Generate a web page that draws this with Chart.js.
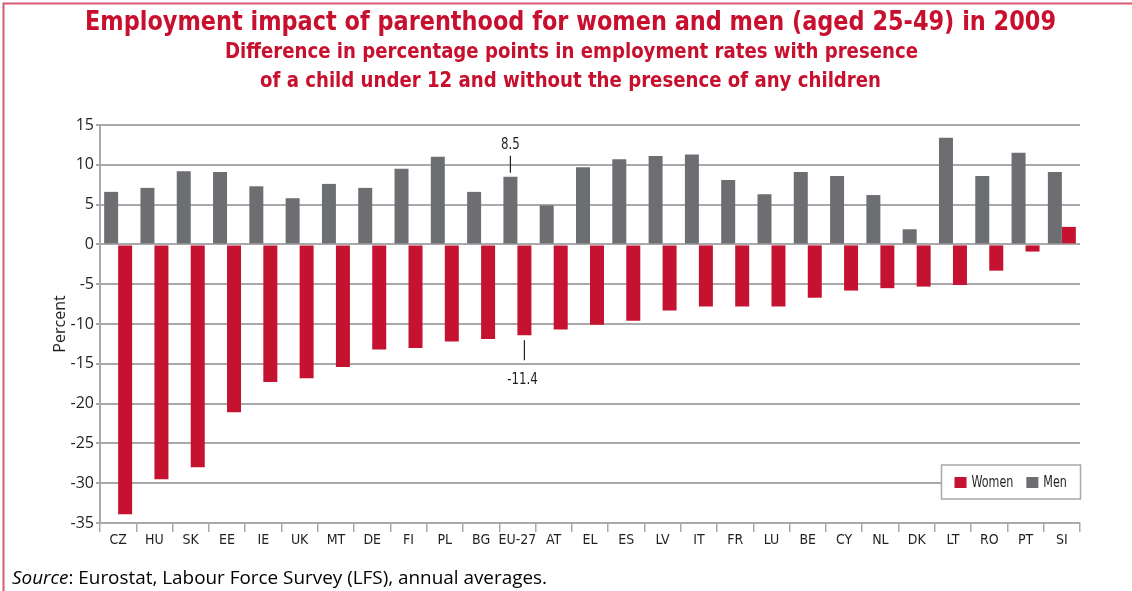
<!DOCTYPE html>
<html><head><meta charset="utf-8">
<script src="https://cdn.jsdelivr.net/npm/chart.js@4/dist/chart.umd.min.js"></script>
<style>html,body{margin:0;padding:0;background:#fff}#wrap{width:1132px;height:591px;position:relative}</style>
</head><body><div id="wrap"><canvas id="c" width="1132" height="591"></canvas></div>
<script>
const categories = ['CZ','HU','SK','EE','IE','UK','MT','DE','FI','PL','BG','EU-27','AT','EL','ES','LV','IT','FR','LU','BE','CY','NL','DK','LT','RO','PT','SI'];
const menValues   = [6.6, 7.1, 9.2, 9.1, 7.3, 5.8, 7.6, 7.1, 9.5, 11.0, 6.6, 8.5, 4.9, 9.7, 10.7, 11.1, 11.3, 8.1, 6.3, 9.1, 8.6, 6.2, 1.9, 13.4, 8.6, 11.5, 9.1];
const womenValues = [-33.9, -29.5, -28.0, -21.1, -17.3, -16.8, -15.4, -13.2, -13.0, -12.2, -11.9, -11.4, -10.7, -10.1, -9.6, -8.3, -7.8, -7.8, -7.8, -6.7, -5.8, -5.5, -5.3, -5.1, -3.3, -0.9, 2.2];
const yTickMin = -35, yTickMax = 15, yTickStep = 5;
const labelledCategory = 'EU-27';
const titleText = 'Employment impact of parenthood for women and men (aged 25-49) in 2009';
const subtitleLines = ['Difference in percentage points in employment rates with presence', 'of a child under 12 and without the presence of any children'];
const sourceItalic = 'Source';
const sourceRest = ': Eurostat, Labour Force Survey (LFS), annual averages.';

const COND = "'Liberation Sans Narrow','DejaVu Sans Condensed','Roboto Condensed',sans-serif";
const REG = "'Open Sans','Noto Sans',sans-serif";
const TXT = '#231f20';
const GRID = '#a9a9ac';
const RED = '#c41230';
const GREY = '#6d6e71';
const TITLE_RED = '#c8102e';

function fitText(ctx, text, cx, y, width) {
  const m = ctx.measureText(text).width;
  const sx = width / m;
  ctx.save();
  ctx.translate(cx, y);
  ctx.scale(sx, 1);
  ctx.fillText(text, 0, 0);
  ctx.restore();
}
function sxText(ctx, text, x, y, sx) {
  ctx.save();
  ctx.translate(x, y);
  ctx.scale(sx, 1);
  ctx.fillText(text, 0, 0);
  ctx.restore();
  return ctx.measureText(text).width * sx;
}

const decor = {
  id: 'decor',
  afterDraw(chart) {
    const ctx = chart.ctx;
    const ca = chart.chartArea;
    ctx.save();
    // frame
    ctx.strokeStyle = '#d65a74';
    ctx.lineWidth = 2;
    ctx.beginPath();
    ctx.moveTo(3.5, 591); ctx.lineTo(3.5, 3.5); ctx.lineTo(1132, 3.5);
    ctx.stroke();
    // titles
    ctx.fillStyle = TITLE_RED;
    ctx.textAlign = 'center';
    ctx.textBaseline = 'middle';
    ctx.font = 'bold 27px ' + COND;
    fitText(ctx, titleText, 570.5, 23, 971);
    ctx.font = 'bold 21px ' + COND;
    fitText(ctx, subtitleLines[0], 571.5, 53, 693);
    fitText(ctx, subtitleLines[1], 570.5, 82, 621);
    // source
    ctx.fillStyle = '#000';
    ctx.textAlign = 'left';
    ctx.font = 'italic 17.5px ' + REG;
    const wi = ctx.measureText(sourceItalic).width;
    ctx.font = '17.5px ' + REG;
    const wr = ctx.measureText(sourceRest).width;
    const ssx = 535 / (wi + wr);
    ctx.font = 'italic 17.5px ' + REG;
    sxText(ctx, sourceItalic, 12, 579, ssx);
    ctx.font = '17.5px ' + REG;
    sxText(ctx, sourceRest, 12 + wi * ssx, 579, ssx);
    // annotations for labelled category
    const idx = categories.indexOf(labelledCategory);
    const mBar = chart.getDatasetMeta(0).data[idx];
    const wBar = chart.getDatasetMeta(1).data[idx];
    ctx.strokeStyle = TXT; ctx.lineWidth = 1.2;
    ctx.fillStyle = TXT;
    ctx.font = '16px ' + COND;
    ctx.textAlign = 'center';
    ctx.beginPath();
    ctx.moveTo(mBar.x, mBar.y - 4); ctx.lineTo(mBar.x, mBar.y - 21);
    ctx.moveTo(wBar.x, wBar.y + 5); ctx.lineTo(wBar.x, wBar.y + 25);
    ctx.stroke();
    sxText(ctx, String(menValues[idx]), mBar.x, mBar.y - 32, 0.82);
    sxText(ctx, String(womenValues[idx]), wBar.x - 2, wBar.y + 45, 0.82);
    // legend
    const lw = 139, lh = 34;
    const lx = ca.right - lw + 0.5, ly = ca.bottom - 58;
    ctx.fillStyle = '#fff';
    ctx.fillRect(lx, ly, lw, lh);
    ctx.strokeStyle = GRID; ctx.lineWidth = 1.5;
    ctx.strokeRect(lx, ly, lw, lh);
    ctx.font = '16.5px ' + COND;
    ctx.textAlign = 'left';
    let x = lx + 13;
    const ds = chart.data.datasets.slice().reverse();
    ds.forEach(d => {
      ctx.fillStyle = d.backgroundColor;
      ctx.fillRect(x, ly + 12, 12, 11);
      ctx.fillStyle = TXT;
      const tw = sxText(ctx, d.label, x + 17, ly + 18, 0.75);
      x += 17 + tw + 13;
    });
    ctx.restore();
  }
};

new Chart(document.getElementById('c'), {
  type: 'bar',
  data: {
    labels: categories,
    datasets: [
      { label: 'Men', data: menValues, backgroundColor: GREY, categoryPercentage: 0.771, barPercentage: 1.0 },
      { label: 'Women', data: womenValues, backgroundColor: RED, categoryPercentage: 0.771, barPercentage: 1.0 }
    ]
  },
  options: {
    responsive: false,
    animation: false,
    layout: { padding: { left: 40, top: 125, right: 52, bottom: 38 } },
    plugins: { legend: { display: false }, tooltip: { enabled: false } },
    scales: {
      x: {
        afterFit(s) { s.height = 30; },
        grid: { offset: true, drawOnChartArea: false, drawTicks: true, tickLength: 9, color: GRID, lineWidth: 1.5 },
        border: { display: true, color: GRID, width: 2 },
        ticks: { font: { family: COND, size: 14 }, color: TXT, padding: 0, maxRotation: 0, autoSkip: false }
      },
      y: {
        min: yTickMin, max: yTickMax,
        afterFit(s) { s.width = 60; },
        grid: { color: GRID, lineWidth: 2, tickLength: 4 },
        border: { display: true, color: GRID, width: 2 },
        ticks: { stepSize: yTickStep, font: { family: REG, size: 16 }, color: TXT, padding: 2 },
        title: { display: true, text: 'Percent', font: { family: REG, size: 16 }, color: TXT, padding: { top: 11, bottom: 0 } }
      }
    }
  },
  plugins: [decor]
});
</script>
</body></html>
